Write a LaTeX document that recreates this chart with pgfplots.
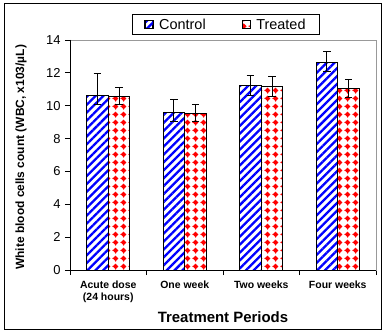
\documentclass[border=0pt]{standalone}
\usepackage{pgfplots}
\pgfplotsset{compat=1.18}
\usepackage{fontspec}
\setmainfont{Liberation Sans}
\usetikzlibrary{patterns,patterns.meta}
\pgfdeclarepatternformonly{rdiam}{\pgfqpoint{0bp}{0bp}}{\pgfqpoint{8bp}{8bp}}{\pgfqpoint{8bp}{8bp}}{%
  \pgfpathmoveto{\pgfqpoint{4bp}{0.9bp}}%
  \pgfpathlineto{\pgfqpoint{7.1bp}{4bp}}%
  \pgfpathlineto{\pgfqpoint{4bp}{7.1bp}}%
  \pgfpathlineto{\pgfqpoint{0.9bp}{4bp}}%
  \pgfpathclose
  \pgfpathrectangle{\pgfqpoint{-0.4bp}{3.5bp}}{\pgfqpoint{0.8bp}{1bp}}%
  \pgfpathrectangle{\pgfqpoint{3.5bp}{-0.4bp}}{\pgfqpoint{1bp}{0.8bp}}%
  \pgfusepath{fill}}
\definecolor{ctrlblue}{RGB}{0,0,255}
\definecolor{trred}{RGB}{255,0,0}
\begin{document}
\begin{tikzpicture}
\begin{axis}[
  scale only axis, width=306bp, height=230bp,
  ybar=0pt, bar width=0.284,
  xmin=-0.5, xmax=3.5, ymin=0, ymax=14,
  xtick={-0.5,0.5,1.5,2.5,3.5},
  x tick label as interval,
  xticklabels={{Acute dose\\(24 hours)},{One week},{Two weeks},{Four weeks}},
  xticklabel style={align=center, font=\bfseries\fontsize{10.5}{12}\selectfont, yshift=-2bp},
  ytick={0,2,...,14},
  yticklabel style={font=\fontsize{13}{14}\selectfont, xshift=-1bp},
  /pgf/number format/assume math mode=true,
  tick align=outside, xtick pos=bottom, ytick pos=left,
  major tick length=5bp, tick style={black, line width=0.8pt},
  axis line style={draw=gray!80, line width=0.8pt},
  ylabel={White blood cells count (WBC, x103/µL)},
  every axis y label/.style={at={(axis description cs:-0.16,0.49)}, rotate=90, anchor=center, font=\bfseries\fontsize{12}{14}\selectfont},
  xlabel={Treatment Periods},
  every axis x label/.style={at={(axis description cs:0.5,-0.203)}, anchor=center, font=\bfseries\fontsize{15}{17}\selectfont},
  legend style={at={(axis description cs:0.51,1)}, anchor=south, yshift=5bp, legend columns=2, draw=black, line width=0.8pt, font=\fontsize{14.5}{16}\selectfont, inner xsep=12bp, inner ysep=2bp},
  legend cell align=left,
  /tikz/every odd column/.append style={column sep=4bp},
  /tikz/every even column/.append style={column sep=34bp},
  legend image code/.code={\draw[#1, line width=0.6pt] (0bp,-4bp) rectangle (8bp,4bp);},
  error bars/error bar style={black, line width=0.9pt},
  error bars/error mark options={rotate=90, mark size=3.7bp, black, line width=0.9pt},
]
\addplot[draw=black, line width=1pt, preaction={fill=white}, pattern={Lines[angle=45,distance=5.6bp,line width=2.3bp]}, pattern color=ctrlblue,
  error bars/.cd, y dir=both, y explicit]
coordinates {
 (0,10.62) += (0,1.35) -= (0,0.52)
 (1,9.60) += (0,0.79) -= (0,0.53)
 (2,11.24) += (0,0.61) -= (0,0.61)
 (3,12.64) += (0,0.65) -= (0,0.55)
};
\addlegendentry{Control}
\addplot[draw=black, line width=1pt, preaction={fill=white}, pattern=rdiam, pattern color=trred,
  error bars/.cd, y dir=both, y explicit]
coordinates {
 (0,10.57) += (0,0.55) -= (0,0.47)
 (1,9.54) += (0,0.54) -= (0,0.47)
 (2,11.18) += (0,0.61) -= (0,0.61)
 (3,11.06) += (0,0.55) -= (0,0.55)
};
\addlegendentry{Treated}
\draw[black, line width=0.9pt] (rel axis cs:0,1) -- (rel axis cs:0,0) -- (rel axis cs:1,0);
\coordinate (ll) at (rel axis cs:0,0);
\coordinate (ur) at (rel axis cs:1,1);
\end{axis}
\draw[black, line width=1pt] ([xshift=-66bp,yshift=-59bp]ll) rectangle ([xshift=5bp,yshift=36bp]ur);
\pgfresetboundingbox
\useasboundingbox ([xshift=-70bp,yshift=-64bp]ll) rectangle ([xshift=10bp,yshift=40bp]ur);
\end{tikzpicture}
\end{document}
